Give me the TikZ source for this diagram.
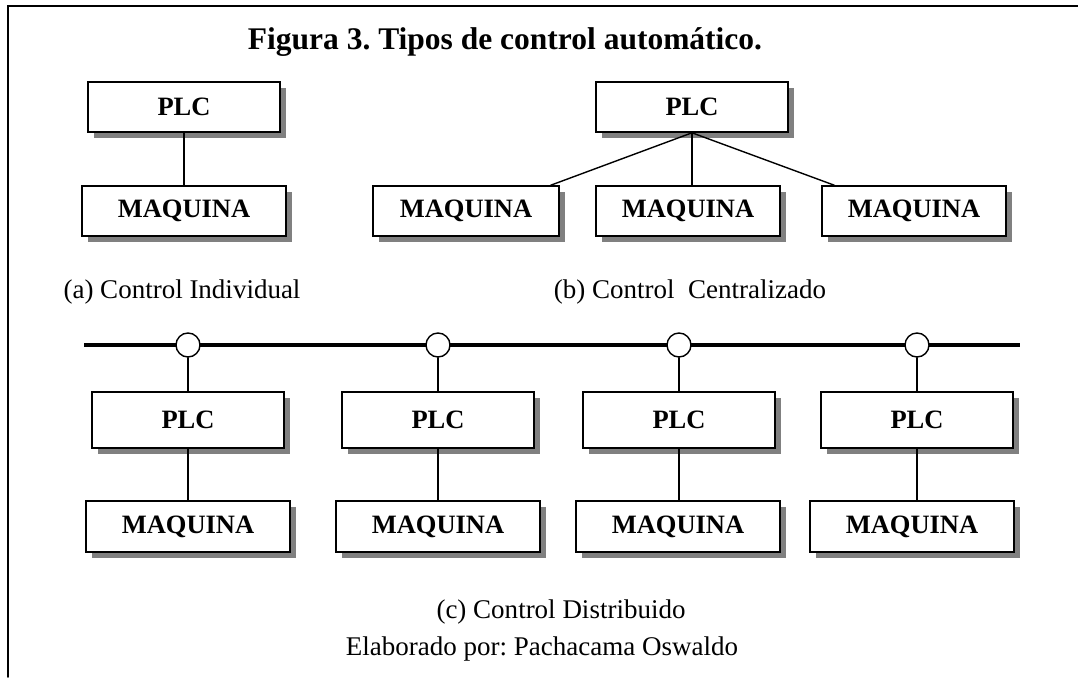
\documentclass[tikz,border=0pt]{standalone}
\usepackage{fontspec}
\setmainfont{Liberation Serif}
\usetikzlibrary{calc, shadows}
\frenchspacing

\begin{document}
\begin{tikzpicture}[
  x=1pt, y=-1pt,
  line cap=round,
  unitbox/.style={draw, line width=1.6pt, fill=white, inner sep=0pt,
    font=\fontsize{26.5}{30}\selectfont\bfseries,
    drop shadow={shadow xshift=6pt, shadow yshift=-6pt, fill=black!50, opacity=1}},
  plcbox/.style={unitbox, minimum width=192pt, minimum height=50pt},
  maqbox/.style={unitbox, minimum width=204pt, minimum height=50pt},
  link/.style={line width=1.4pt},
  bus/.style={line width=3.6pt},
  tap/.style={circle, draw, line width=1.4pt, fill=white, minimum size=24pt, inner sep=0pt},
  caption/.style={font=\fontsize{27}{30}\selectfont, anchor=base},
]

\useasboundingbox (0,0) rectangle (1078,677);

% marco (solo arriba y a la izquierda)
\draw[line width=1.6pt] (8,677) -- (8,6) -- (1078,6);

% titulo
\node[font=\fontsize{31.5}{34}\selectfont\bfseries, anchor=base] (title) at (505,49)
  {Figura 3. Tipos de control automático.};

% (a) control individual
\node[plcbox] (plcA) at (184,107) {PLC};
\node[maqbox] (maqA) at (184,211) {MAQUINA};
\draw[link] (plcA.south) -- (maqA.north);
\node[caption] (capA) at (182,298) {(a) Control Individual};

% (b) control centralizado
\node[plcbox] (plcB) at (692,107) {PLC};
\node[maqbox, minimum width=186pt] (maqB1) at (466,211) {MAQUINA};
\node[maqbox, minimum width=184pt] (maqB2) at (688,211) {MAQUINA};
\node[maqbox, minimum width=184pt] (maqB3) at (914,211) {MAQUINA};
\draw[link] (plcB.south) -- ($(maqB1.north east)+(-9,0)$);
\draw[link] (plcB.south) -- (plcB.south |- maqB2.north);
\draw[link] (plcB.south) -- ($(maqB3.north west)+(13,0)$);
\node[caption] (capB) at (690,298) {(b) Control\ \ Centralizado};

% (c) control distribuido: bus de campo
\coordinate (busL) at (84,345);
\coordinate (busR) at (1020,345);
\draw[bus, line cap=butt] (busL) -- (busR);

\foreach \i/\x/\mx in {1/188/188, 2/438/438, 3/679/678, 4/917/912} {
  \node[tap] (tap\i) at (\x,345) {};
  \node[plcbox, minimum height=56pt] (plcC\i) at (\x,420) {PLC};
  \node[maqbox, minimum height=51pt] (maqC\i) at (\mx,526.5) {MAQUINA};
  \draw[link] (tap\i.south) -- (plcC\i.north);
  \draw[link] (plcC\i.south) -- (plcC\i.south |- maqC\i.north);
}

\node[caption] (capC) at (561,618) {(c) Control Distribuido};
\node[caption] (credit) at (542,655) {Elaborado por: Pachacama Oswaldo};

\end{tikzpicture}
\end{document}
